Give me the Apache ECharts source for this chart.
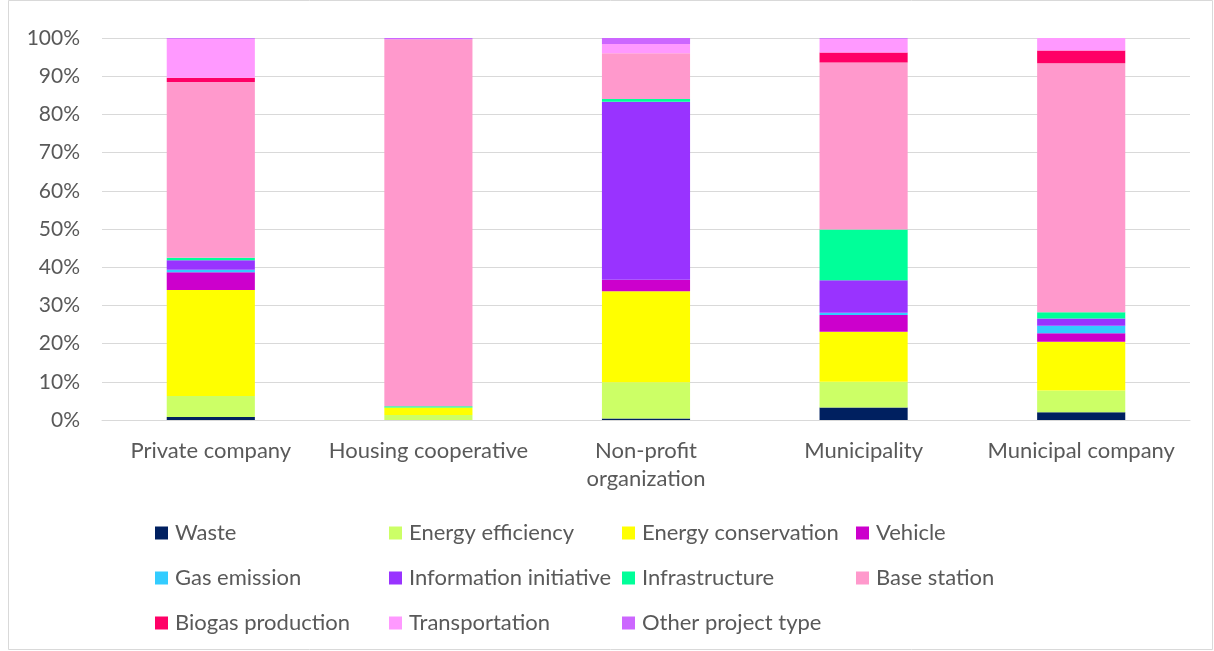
<!DOCTYPE html>
<html>
<head>
<meta charset="utf-8">
<script src="https://cdn.jsdelivr.net/npm/echarts@6/dist/echarts.min.js"></script>
<style>
html,body{margin:0;padding:0;background:#fff;}
#chart{width:1214px;height:651px;}
</style>
</head>
<body>
<div id="chart"></div>
<script>
const categories = ['Private company', 'Housing cooperative', 'Non-profit\norganization', 'Municipality', 'Municipal company'];
const yTicks = [0, 10, 20, 30, 40, 50, 60, 70, 80, 90, 100];

const waste = [0.8, 0, 0.4, 3.3, 2.0];
const energyEfficiency = [5.5, 1.3, 9.5, 6.7, 5.7];
const energyConservation = [27.7, 2.0, 23.8, 13.1, 12.8];
const vehicle = [4.7, 0, 3.0, 4.4, 2.2];
const gasEmission = [0.6, 0, 0, 0.6, 2.0];
const informationInitiative = [2.5, 0, 46.6, 8.5, 1.9];
const infrastructure = [0.7, 0.3, 0.7, 13.3, 1.6];
const baseStation = [46.0, 96.1, 12.0, 43.7, 65.2];
const biogasProduction = [1.1, 0, 0, 2.6, 3.3];
const transportation = [10.2, 0, 2.4, 3.6, 3.3];
const otherProjectType = [0.2, 0.3, 1.6, 0.2, 0];

const seriesDefs = [
  ['Waste', waste, '#002060'],
  ['Energy efficiency', energyEfficiency, '#CCFF66'],
  ['Energy conservation', energyConservation, '#FFFF00'],
  ['Vehicle', vehicle, '#CC00CC'],
  ['Gas emission', gasEmission, '#33CCFF'],
  ['Information initiative', informationInitiative, '#9933FF'],
  ['Infrastructure', infrastructure, '#00FF99'],
  ['Base station', baseStation, '#FF99CC'],
  ['Biogas production', biogasProduction, '#FF0066'],
  ['Transportation', transportation, '#FF99FF'],
  ['Other project type', otherProjectType, '#CC66FF']
];

const FONT = 'Lato';
const TXT = '#595959';

// legend layout: 4 columns x 3 rows
const legendPos = [
  [155, 522], [389, 522], [622, 522], [856, 522],
  [155, 567], [389, 567], [622, 567], [856, 567],
  [155, 612], [389, 612], [622, 612]
];

const legends = seriesDefs.map((d, i) => ({
  data: [d[0]],
  left: legendPos[i][0],
  top: legendPos[i][1],
  padding: 0,
  itemWidth: 13,
  itemHeight: 13,
  itemGap: 0,
  icon: 'rect',
  textStyle: { color: TXT, fontFamily: FONT, fontSize: 22, lineHeight: 22, padding: [0, 0, 0, 2] },
  selectedMode: false
}));

const chart = echarts.init(document.getElementById('chart'), null, { renderer: 'canvas' });
chart.setOption({
  animation: false,
  backgroundColor: '#fff',
  graphic: [{
    type: 'rect',
    shape: { x: 8.5, y: 0.5, width: 1204, height: 649 },
    style: { fill: 'none', stroke: '#d9d9d9', lineWidth: 1 },
    silent: true, z: -1
  }],
  legend: legends,
  grid: { left: 102, right: 24, top: 38, bottom: 231, containLabel: false },
  xAxis: {
    type: 'category',
    data: categories,
    axisLine: { show: true, lineStyle: { color: '#d9d9d9', width: 1 } },
    axisTick: { show: false },
    axisLabel: { color: TXT, fontFamily: FONT, fontSize: 22, margin: 17, lineHeight: 28, interval: 0 }
  },
  yAxis: {
    type: 'value',
    min: 0, max: 100, interval: 10,
    axisLine: { show: false },
    axisTick: { show: false },
    splitLine: { lineStyle: { color: '#d9d9d9', width: 1 } },
    axisLabel: {
      color: TXT, fontFamily: FONT, fontSize: 21, margin: 22,
      formatter: v => (yTicks.includes(v) ? v + '%' : '')
    }
  },
  series: seriesDefs.map(d => ({
    name: d[0],
    type: 'bar',
    stack: 'total',
    data: d[1],
    barWidth: '40.5%',
    itemStyle: { color: d[2] },
    emphasis: { disabled: true }
  }))
});
</script>
</body>
</html>
